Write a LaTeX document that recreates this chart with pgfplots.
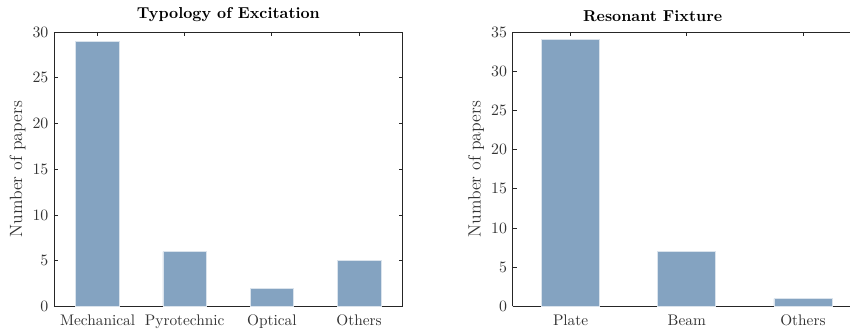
\documentclass[border=0pt]{standalone}
\usepackage{pgfplots}
\pgfplotsset{compat=1.18}
\definecolor{barc}{RGB}{132,163,193}
\begin{document}
\begin{tikzpicture}
\pgfplotsset{
  common/.style={
    scale only axis,
    height=173.5pt,
    ybar,
    bar width=0.5,
    ymin=0,
    xtick=data,
    tick align=inside,
    major tick length=2.6pt,
    axis line style={line width=0.55pt, black!85},
    tick style={line width=0.55pt, black!85},
    ylabel={Number of papers},
    ylabel shift=-2.5pt,
    ylabel style={text=black!80, font=\fontsize{11.2pt}{13pt}\selectfont},
    ticklabel style={text=black!80, font=\fontsize{9.7pt}{11.5pt}\selectfont},
    xticklabel style={yshift=-1.5pt, text height=1.6ex, text depth=0.4ex},
    title style={font=\bfseries, yshift=-3pt},
  },
  barst/.style={fill=barc, draw=white!70!barc, line width=0.5pt},
}
\begin{axis}[common,
  name=left,
  at={(0,0)}, anchor=south west,
  width=220.4pt,
  title={Typology of Excitation},
  xmin=-0.5, xmax=3.5,
  ymax=30, ytick={0,5,...,30},
  xticklabels={Mechanical,Pyrotechnic,Optical,Others},
]
\addplot[barst] coordinates {(0,29) (1,6) (2,2) (3,5)};
\end{axis}
\begin{axis}[common,
  at={(289.8pt,0)}, anchor=south west,
  width=213.3pt,
  title={Resonant Fixture},
  title style={at={(0.415,1)}},
  xmin=-0.5, xmax=2.405,
  ymax=35, ytick={0,5,...,35},
  axis y line*=left,
  xticklabels={Plate,Beam,Others},
]
\addplot[barst] coordinates {(0,34) (1,7) (2,1)};
\end{axis}
\pgfresetboundingbox
\useasboundingbox (-34.1pt,-15.8pt) rectangle (503.1pt,193.7pt);
\end{tikzpicture}
\end{document}
